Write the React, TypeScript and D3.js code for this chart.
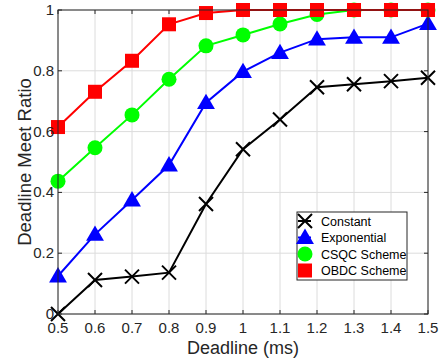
import React from "react";
import * as d3 from "d3";

const deadlines = [0.5, 0.6, 0.7, 0.8, 0.9, 1.0, 1.1, 1.2, 1.3, 1.4, 1.5];
const constantVals = [0.0, 0.112, 0.123, 0.136, 0.362, 0.542, 0.64, 0.746, 0.756, 0.766, 0.777];
const exponentialVals = [0.125, 0.262, 0.375, 0.49, 0.695, 0.797, 0.86, 0.904, 0.91, 0.91, 0.955];
const csqcVals = [0.437, 0.547, 0.655, 0.772, 0.882, 0.918, 0.954, 0.985, 1.0, 1.0, 1.0];
const obdcVals = [0.615, 0.731, 0.833, 0.953, 0.99, 1.0, 1.0, 1.0, 1.0, 1.0, 1.0];
const xTicks = [0.5, 0.6, 0.7, 0.8, 0.9, 1.0, 1.1, 1.2, 1.3, 1.4, 1.5];
const yTicks = [0, 0.2, 0.4, 0.6, 0.8, 1];

type Marker = "x" | "tri" | "circle" | "square";
const seriesList: { name: string; values: number[]; color: string; marker: Marker }[] = [
  { name: "Constant", values: constantVals, color: "#000000", marker: "x" },
  { name: "Exponential", values: exponentialVals, color: "#0000ff", marker: "tri" },
  { name: "CSQC Scheme", values: csqcVals, color: "#00ff00", marker: "circle" },
  { name: "OBDC Scheme", values: obdcVals, color: "#ff0000", marker: "square" },
];

const W = 445;
const H = 360;
const left = 58;
const right = 428;
const top = 10;
const bottom = 314;
const font = "Arial, 'Liberation Sans', Helvetica, sans-serif";
const textColor = "#262626";

function MarkerShape({ type, cx, cy, color }: { type: Marker; cx: number; cy: number; color: string }) {
  if (type === "x") {
    const r = 7;
    return (
      <path
        d={`M${cx - r},${cy - r}L${cx + r},${cy + r}M${cx - r},${cy + r}L${cx + r},${cy - r}`}
        stroke={color}
        strokeWidth={2}
        fill="none"
      />
    );
  }
  if (type === "circle") {
    return <circle cx={cx} cy={cy} r={7.5} fill={color} />;
  }
  if (type === "square") {
    return <rect x={cx - 7} y={cy - 7} width={14} height={14} fill={color} />;
  }
  const s = 8.5;
  return (
    <path
      d={`M${cx},${cy - s * 1.05}L${cx + s * 1.05},${cy + s * 0.75}L${cx - s * 1.05},${cy + s * 0.75}Z`}
      fill={color}
    />
  );
}

export default function App() {
  const x = d3.scaleLinear().domain([0.5, 1.5]).range([left, right]);
  const y = d3.scaleLinear().domain([0, 1]).range([bottom, top]);
  const line = d3
    .line<number>()
    .x((_, i) => x(deadlines[i]))
    .y((d) => y(d));

  const legendX = 297;
  const legendY = 212;
  const legendW = 110;
  const legendH = 68;
  const rowH = 16.5;

  return (
    <svg
      width={W}
      height={H}
      style={{ position: "absolute", left: 0, top: 0, background: "#fff" }}
      fontFamily={font}
    >
      <rect x={0} y={0} width={W} height={H} fill="#fff" />
      {/* grid */}
      {xTicks.map((t) => (
        <line key={"gx" + t} x1={x(t)} x2={x(t)} y1={top} y2={bottom} stroke="#dcdcdc" strokeWidth={1} />
      ))}
      {yTicks.map((t) => (
        <line key={"gy" + t} x1={left} x2={right} y1={y(t)} y2={y(t)} stroke="#dcdcdc" strokeWidth={1} />
      ))}
      {/* tick marks on all four sides */}
      {xTicks.map((t) => (
        <g key={"tx" + t} stroke={textColor} strokeWidth={1}>
          <line x1={x(t)} x2={x(t)} y1={bottom} y2={bottom - 4} />
          <line x1={x(t)} x2={x(t)} y1={top} y2={top + 4} />
        </g>
      ))}
      {yTicks.map((t) => (
        <g key={"ty" + t} stroke={textColor} strokeWidth={1}>
          <line x1={left} x2={left + 4} y1={y(t)} y2={y(t)} />
          <line x1={right} x2={right - 4} y1={y(t)} y2={y(t)} />
        </g>
      ))}
      {/* series */}
      {seriesList.map((s) => (
        <g key={s.name}>
          <path d={line(s.values) || ""} fill="none" stroke={s.color} strokeWidth={2} />
          {s.values.map((v, i) => (
            <MarkerShape key={i} type={s.marker} cx={x(deadlines[i])} cy={y(v)} color={s.color} />
          ))}
        </g>
      ))}
      {/* axes box */}
      <rect x={left} y={top} width={right - left} height={bottom - top} fill="none" stroke={textColor} strokeWidth={1} />
      {/* tick labels */}
      {xTicks.map((t) => (
        <text key={"lx" + t} x={x(t)} y={333} textAnchor="middle" fontSize={15} fill={textColor}>
          {d3.format("~g")(t)}
        </text>
      ))}
      {yTicks.map((t) => (
        <text key={"ly" + t} x={54} y={y(t) + 5} textAnchor="end" fontSize={15} fill={textColor}>
          {d3.format("~g")(t)}
        </text>
      ))}
      {/* axis titles */}
      <text x={(left + right) / 2} y={354} textAnchor="middle" fontSize={18} fill={textColor}>
        Deadline (ms)
      </text>
      <text
        transform={`translate(31,${(top + bottom) / 2}) rotate(-90)`}
        textAnchor="middle"
        fontSize={18.5}
        fill={textColor}
      >
        Deadline Meet Ratio
      </text>
      {/* legend */}
      <rect x={legendX} y={legendY} width={legendW} height={legendH} fill="#fff" stroke={textColor} strokeWidth={1} />
      {seriesList.map((s, i) => {
        const cy = legendY + 9 + i * rowH;
        return (
          <g key={"lg" + s.name}>
            <line x1={legendX + 1} x2={legendX + 14} y1={cy} y2={cy} stroke={s.color} strokeWidth={2} />
            <MarkerShape type={s.marker} cx={legendX + 8} cy={cy} color={s.color} />
            <text x={legendX + 24} y={cy + 4.5} fontSize={12.5} fill="#000">
              {s.name}
            </text>
          </g>
        );
      })}
    </svg>
  );
}
